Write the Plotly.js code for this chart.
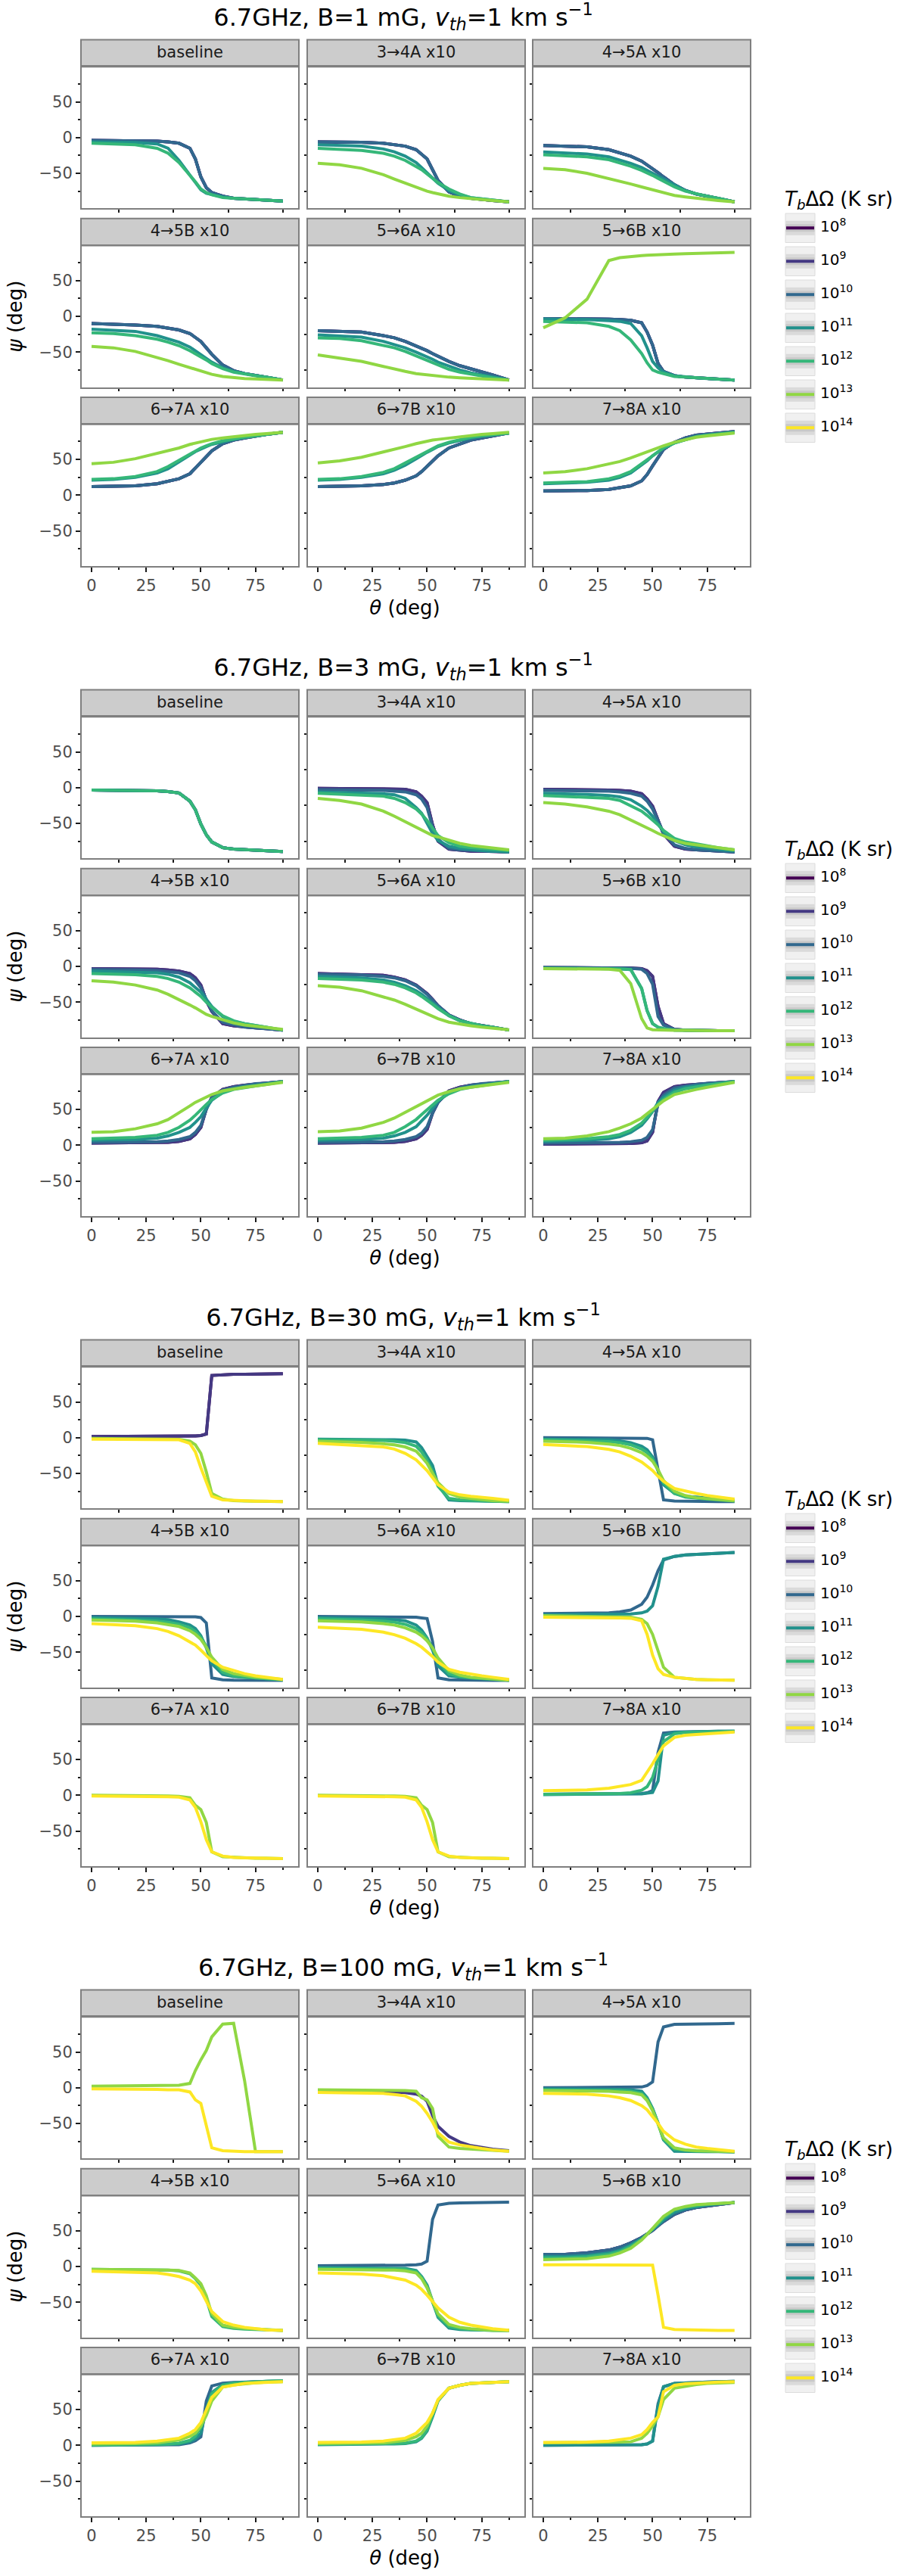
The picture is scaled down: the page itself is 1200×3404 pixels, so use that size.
<!DOCTYPE html>
<html>
<head>
<meta charset="utf-8">
<script src="https://cdn.plot.ly/plotly-3.0.1.min.js"></script>
<style>html,body{margin:0;padding:0;background:#fff;}#chart{width:1200px;height:3404px;}</style>
</head>
<body>
<div id="chart"></div>
<script>
// ---------- shared values ----------
const theta = [0,10,20,30,35,40,45,47.5,50,52.5,55,60,65,70,75,80,87.5];
const levelExponents = [8,9,10,11,12,13,14];
const fieldStrengths = [1,3,30,100];
const facetLabels = ["baseline","3→4A x10","4→5A x10","4→5B x10","5→6A x10","5→6B x10","6→7A x10","6→7B x10","7→8A x10"];
const N = null;

// ---------- B = 1 mG ----------
const B1_baseline = [
 [-4,-4,-4.5,-5,-6,-8,-15,-30,-55,-70,-77,-82,-85,-86,-87,-88,-89],
 [-4,-4,-4.5,-5,-6,-8,-15,-30,-55,-70,-77,-82,-85,-86,-87,-88,-89],
 [-4,-4,-4.5,-5,-6,-8,-15,-30,-55,-70,-77,-82,-85,-86,-87,-88,-89],
 [-6,-6,-7,-9,-15,-32,-52,-63,-73,-78,-80,-83,-85,-86,-87,-88,-89],
 [-8,-8.5,-10,-15,-22,-35,-52,-62,-72,-77,-80,-84,-85,-86,-87,-88,-89],
 N, N];
const B1_34A = [
 [-6,-6,-6.5,-8,-10,-12,-17,-23,-30,-45,-60,-76,-82,-85,-87,-88,-90],
 [-6,-6,-6.5,-8,-10,-12,-17,-23,-30,-45,-60,-76,-82,-85,-87,-88,-90],
 [-6,-6,-6.5,-8,-10,-12,-17,-23,-30,-45,-60,-76,-82,-85,-87,-88,-90],
 [-10,-10.5,-12,-16,-20,-26,-35,-42,-49,-57,-64,-74,-80,-84,-86,-88,-90],
 [-15,-16,-18,-22,-26,-32,-40,-45,-51,-57,-63,-72,-79,-84,-86,-88,-90],
 [-36,-38,-43,-52,-58,-64,-70,-72,-75,-77,-79,-82,-84,-85,-87,-88,-90],
 N];
const B1_45A = [
 [-11,-11.5,-13,-17,-21,-26,-33,-38,-43,-49,-55,-66,-74,-79,-82,-85,-90],
 [-11,-11.5,-13,-17,-21,-26,-33,-38,-43,-49,-55,-66,-74,-79,-82,-85,-90],
 [-11,-11.5,-13,-17,-21,-26,-33,-38,-43,-49,-55,-66,-74,-79,-82,-85,-90],
 [-20,-21,-23,-27,-31,-36,-42,-46,-50,-55,-59,-67,-74,-79,-82,-85,-90],
 [-24,-25,-27,-31,-35,-40,-46,-49,-53,-57,-61,-69,-75,-79,-82,-85,-90],
 [-43,-45,-50,-57,-61,-65,-69,-71,-74,-76,-78,-81,-83,-85,-87,-88,-90],
 N];
const B1_45B = [
 [-10,-10.5,-12,-14,-16,-19,-24,-29,-35,-44,-53,-68,-76,-80,-83,-85,-89],
 [-10,-10.5,-12,-14,-16,-19,-24,-29,-35,-44,-53,-68,-76,-80,-83,-85,-89],
 [-10,-10.5,-12,-14,-16,-19,-24,-29,-35,-44,-53,-68,-76,-80,-83,-85,-89],
 [-18,-19,-21,-27,-31,-36,-43,-48,-53,-58,-64,-72,-77,-80,-83,-85,-89],
 [-23,-24,-27,-32,-36,-41,-48,-52,-57,-61,-66,-73,-78,-81,-83,-85,-89],
 [-42,-44,-49,-57,-62,-67,-72,-74,-77,-79,-81,-84,-86,-87,-87.5,-88,-89],
 N];
const B1_56A = [
 [-20,-20.5,-22,-27,-30,-35,-41,-44,-48,-52,-56,-63,-69,-73,-78,-82,-89],
 [-20,-20.5,-22,-27,-30,-35,-41,-44,-48,-52,-56,-63,-69,-73,-78,-82,-89],
 [-20,-20.5,-22,-27,-30,-35,-41,-44,-48,-52,-56,-63,-69,-73,-78,-82,-89],
 [-26,-27,-29,-35,-39,-44,-50,-53,-57,-60,-64,-70,-75,-79,-82,-85,-89],
 [-30,-31,-34,-40,-44,-49,-55,-58,-62,-65,-68,-74,-78,-81,-84,-86,-89],
 [-54,-58,-63,-70,-74,-77,-80,-81,-82,-83,-84,-85,-86,-87,-87.5,-88,-89],
 N];
const B1_56B = [
 [-3,-3,-3.5,-4,-4.5,-5.5,-9,-22,-40,-66,-77,-83,-85,-86,-87,-88,-89],
 [-3,-3,-3.5,-4,-4.5,-5.5,-9,-22,-40,-66,-77,-83,-85,-86,-87,-88,-89],
 [-3,-3,-3.5,-4,-4.5,-5.5,-9,-22,-40,-66,-77,-83,-85,-86,-87,-88,-89],
 [-4,-4,-4.5,-6,-7,-10,-27,-44,-63,-72,-78,-83,-85,-86,-87,-88,-89],
 [-7,-7.5,-9,-14,-20,-33,-52,-65,-75,-78,-80,-84,-85,-86,-87,-88,-89],
 [-16,-2,24,78,82,84,85,85.5,86,86,86.5,87,87.5,88,88.5,89,89.5],
 N];
const B1_67A = [
 [12,12,13,16,19,23,30,38,47,55,62,72,77,80,83,85,88],
 [12,12,13,16,19,23,30,38,47,55,62,72,77,80,83,85,88],
 [12,12,13,16,19,23,30,38,47,55,62,72,77,80,83,85,88],
 [21,22,25,31,37,46,56,61,65,68,71,75,78,81,83,85,88],
 [22,23,26,33,40,49,58,62,66,69,72,76,79,81,83,85,88],
 [44,46,51,58,62,66,71,73,75,77,78,80,82,84,85,86,88],
 N];
const B1_67B = [
 [12,12,13,15,17,21,27,33,40,48,55,66,72,77,80,83,87],
 [12,12,13,15,17,21,27,33,40,48,55,66,72,77,80,83,87],
 [12,12,13,15,17,21,27,33,40,48,55,66,72,77,80,83,87],
 [21,22,25,30,35,42,51,56,60,64,68,73,77,80,83,85,87],
 [22,23,26,32,37,45,54,58,62,66,69,74,78,81,83,85,87],
 [45,48,53,60,64,68,72,74,75,77,78,80,82,84,85,86,88],
 N];
const B1_78A = [
 [6,6,6.5,8,10,13,20,29,41,53,64,74,80,84,86,87,89],
 [6,6,6.5,8,10,13,20,29,41,53,64,74,80,84,86,87,89],
 [6,6,6.5,8,10,13,20,29,41,53,64,74,80,84,86,87,89],
 [16,16.5,18,21,25,31,42,48,55,61,66,73,78,82,84,86,88],
 [17,17.5,19,23,27,33,44,50,56,61,66,73,78,82,84,86,88],
 [31,33,37,43,47,52,58,61,64,67,69,74,78,81,83,85,87],
 N];

// ---------- B = 3 mG ----------
const B2_baseline = [
 [-3.5,-3.5,-4,-4.5,-5.5,-7.5,-19,-31,-51,-66,-76,-84,-86,-87,-88,-88.5,-89.5],
 [-3.5,-3.5,-4,-4.5,-5.5,-7.5,-19,-31,-51,-66,-76,-84,-86,-87,-88,-88.5,-89.5],
 [-3.5,-3.5,-4,-4.5,-5.5,-7.5,-19,-31,-51,-66,-76,-84,-86,-87,-88,-88.5,-89.5],
 [-3.5,-3.5,-4,-4.5,-5.5,-7.5,-19,-31,-51,-66,-76,-84,-86,-87,-88,-88.5,-89.5],
 [-3.5,-3.5,-4,-4.5,-5.5,-7.5,-19,-31,-51,-66,-76,-84,-86,-87,-88,-88.5,-89.5],
 N, N];
const B2_34A = [
 [-1,-1,-1.2,-1.5,-2,-2.5,-6,-12,-21,-52,-75,-86,-88,-89,-89,-89.5,-90],
 [-1,-1,-1.2,-1.5,-2,-2.5,-6,-12,-21,-52,-75,-86,-88,-89,-89,-89.5,-90],
 [-3,-3,-3.5,-4,-5,-6,-10,-16,-28,-55,-72,-85,-87,-88,-89,-89,-90],
 [-6,-6.5,-7,-8.5,-10,-15,-28,-36,-50,-64,-74,-82,-85,-87,-88,-89,-90],
 [-8,-9,-10,-12,-15,-21,-30,-37,-46,-57,-67,-77,-82,-84,-85,-86,-88],
 [-15,-18,-23,-33,-40,-48,-56,-60,-64,-67,-69,-74,-78,-81,-83,-85,-87],
 N];
const B2_45A = [
 [-2.5,-2.5,-3,-3.5,-4,-5,-8.5,-16,-26,-46,-65,-82,-86,-87,-88,-89,-90],
 [-2.5,-2.5,-3,-3.5,-4,-5,-8.5,-16,-26,-46,-65,-82,-86,-87,-88,-89,-90],
 [-4,-4,-4.5,-5,-6,-8,-12,-19,-30,-46,-63,-80,-85,-87,-88,-89,-90],
 [-8,-8.5,-9.5,-11,-13,-17,-26,-32,-40,-51,-62,-74,-80,-83,-85,-86,-89],
 [-11,-12,-13,-15,-18,-25,-33,-39,-45,-52,-60,-71,-76,-79,-82,-84,-87],
 [-21,-23,-27,-33,-38,-45,-52,-56,-60,-64,-67,-74,-78,-80,-82,-84,-87],
 N];
const B2_45B = [
 [-3,-3,-3.5,-4,-5,-6.5,-10,-16,-26,-48,-63,-80,-83,-85,-86,-87,-89],
 [-3,-3,-3.5,-4,-5,-6.5,-10,-16,-26,-48,-63,-80,-83,-85,-86,-87,-89],
 [-4.5,-4.5,-5,-6,-7,-9,-14,-20,-30,-47,-62,-78,-82,-85,-86,-87,-89],
 [-6.5,-7,-8,-9,-11,-15,-23,-29,-36,-46,-56,-70,-77,-80,-83,-85,-89],
 [-10,-10.5,-11.5,-14,-17,-22,-30,-36,-42,-50,-57,-69,-76,-80,-83,-85,-89],
 [-20,-22,-26,-33,-39,-46,-54,-58,-63,-67,-70,-75,-79,-82,-84,-85,-88],
 N];
const B2_56A = [
 [-10,-10.5,-11,-12.5,-15,-19,-26,-32,-38,-46,-55,-68,-75,-80,-83,-85,-89],
 [-10,-10.5,-11,-12.5,-15,-19,-26,-32,-38,-46,-55,-68,-75,-80,-83,-85,-89],
 [-11,-11.5,-12,-14,-16,-20,-27,-33,-39,-47,-55,-68,-75,-80,-83,-85,-89],
 [-14,-15,-16,-19,-22,-27,-34,-39,-45,-51,-58,-69,-76,-80,-83,-85,-89],
 [-17,-18,-19,-22,-25,-30,-37,-42,-47,-53,-59,-69,-76,-80,-83,-85,-89],
 [-27,-29,-34,-42,-47,-53,-60,-63,-67,-70,-73,-78,-81,-83,-85,-86,-88.5],
 N];
const B2_56B = [
 [-1.5,-1.5,-1.5,-1.7,-2,-2.3,-3,-6,-14,-56,-80,-88,-89,-89.5,-89.5,-90,-90],
 [-1.5,-1.5,-1.5,-1.7,-2,-2.3,-3,-6,-14,-56,-80,-88,-89,-89.5,-89.5,-90,-90],
 [-1.5,-1.5,-1.5,-1.7,-2,-2.5,-4,-10,-25,-70,-82,-88,-89,-89.5,-89.5,-90,-90],
 [-2.5,-2.5,-2.5,-3,-3.5,-4.5,-31,-62,-80,-85,-87,-89,-89.5,-89.5,-90,-90,-90],
 [-2.5,-2.5,-2.5,-3,-3.5,-4.5,-31,-62,-80,-85,-87,-89,-89.5,-89.5,-90,-90,-90],
 [-3,-3,-3.2,-4,-5.5,-24,-73,-86,-88.5,-89,-89.5,-89.5,-89.5,-90,-90,-90,-90],
 N];
const B2_67A = [
 [3,3,3,3.5,4,5.5,9,15,25,51,67,78,82,84,86,87,89],
 [3,3,3,3.5,4,5.5,9,15,25,51,67,78,82,84,86,87,89],
 [4,4,4.5,5,6,8,12,18,28,50,66,77,81,84,86,87,89],
 [7,7.5,8,10,13,18,25,32,40,52,63,74,79,82,84,86,89],
 [9,9.5,11,14,18,25,35,42,50,57,64,73,78,81,83,85,89],
 [18,19,23,30,36,45,55,60,64,68,71,76,79,81,83,85,88],
 N];
const B2_67B = [
 [3,3,3,3.5,4,5.5,9,14,22,45,60,76,81,84,86,87,89],
 [3,3,3,3.5,4,5.5,9,14,22,45,60,76,81,84,86,87,89],
 [4,4,4.5,5,6,8,12,17,26,45,60,75,80,84,86,87,89],
 [7,7.5,8,10,13,18,26,34,42,52,62,73,79,82,84,86,89],
 [9,9.5,11,14,18,26,36,43,50,57,63,72,78,81,83,85,89],
 [19,20,24,32,38,46,55,59,63,67,70,75,79,81,83,85,88],
 N];
const B2_78A = [
 [1.5,1.5,1.5,1.7,2,2.5,3.5,6,18,61,74,82,84,85.5,86.5,87.5,89],
 [1.5,1.5,1.5,1.7,2,2.5,3.5,6,18,61,74,82,84,85.5,86.5,87.5,89],
 [3,3,3.2,3.5,4,5,7,11,22,58,70,80,83,85,86.5,87.5,89],
 [5.5,6,7,9,12,18,28,37,47,60,67,77,81,83,85,87,89],
 [7,7.5,9,12,15,21,31,39,48,57,64,74,79,82,84,86,89],
 [9,10,13,19,24,30,38,44,50,56,62,71,75,78,81,84,88],
 N];

// ---------- B = 30 mG ----------
const B3_baseline = [
 [1.5,1.5,1.5,1.5,1.5,2,2,2.5,3,5,87,88,88.5,88.5,89,89,89.5],
 [1.5,1.5,1.5,1.5,1.5,2,2,2.5,3,5,87,88,88.5,88.5,89,89,89.5],
 N, N, N,
 [-1,-1,-1,-1.5,-2,-2.5,-5,-10,-22,-48,-78,-86,-88,-88.5,-89,-89,-89.5],
 [-2,-2,-2,-2,-2.5,-3,-8,-20,-42,-62,-82,-87,-88,-88.5,-89,-89,-89.5]];
const B3_34A = [
 N, N, N,
 [-2,-2,-2,-2.5,-3,-3.5,-6,-14,-27,-39,-66,-87,-88,-88.5,-89,-89,-89.5],
 [-3,-3,-3.5,-4,-5,-7,-12,-20,-32,-47,-68,-85,-87,-88,-88.5,-89,-89.5],
 [-5,-5.5,-6.5,-8.5,-10,-13,-19,-27,-36,-50,-63,-78,-83,-85,-87,-88,-89],
 [-8,-9.5,-10.5,-13,-16,-22,-31,-38,-46,-56,-66,-76,-80,-82,-84,-85,-87.5]];
const B3_45A = [
 N, N,
 [0,0,0,0,0,0,-0.5,-1,-3,-45,-87,-88.5,-89,-89,-89.5,-89.5,-89.5],
 [-2,-2,-2.5,-3,-4.5,-7,-12,-17,-27,-46,-66,-78,-82,-83,-85,-86,-88],
 [-3,-3.5,-4,-5.5,-7,-10,-16,-21,-30,-45,-63,-78,-83,-85,-86,-87,-88.5],
 [-5,-5.5,-6.5,-9,-11,-15,-21,-26,-33,-45,-60,-75,-81,-84,-85.5,-87,-88.5],
 [-9.5,-10.5,-12.5,-16.5,-20,-26,-34,-40,-46,-54,-61,-71,-75,-78,-81,-83,-86]];
const B3_45B = [
 N, N,
 [0,0,0,0,0,0,0,-0.5,-1.5,-9,-86,-88.5,-89,-89,-89.5,-89.5,-89.5],
 [-1.5,-2,-2.5,-3.5,-4.5,-7.5,-12,-17,-27,-44,-66,-81,-84,-85,-86.5,-87.5,-88.5],
 [-3.5,-4,-5,-6.5,-8,-11,-16,-21,-29,-42,-60,-78,-83,-85,-86,-87,-88.5],
 [-5,-5.5,-6.5,-9,-11,-14,-20,-25,-32,-43,-57,-74,-80,-83,-85,-86,-88],
 [-10,-11,-13,-17,-21,-27,-35,-40,-47,-54,-62,-71,-76,-80,-83,-85,-88]];
const B3_56A = [
 N, N,
 [0,0,0,0,0,-0.5,-1,-2,-3,-35,-86,-88.5,-89,-89,-89.5,-89.5,-89.5],
 [-1.5,-2,-2.5,-3.5,-4.5,-6,-12,-19,-30,-47,-69,-83,-85,-86,-87,-88,-89],
 [-3.5,-4,-5,-6.5,-8,-11,-17,-23,-31,-44,-62,-80,-84,-86,-87,-88,-89],
 [-6,-6.5,-7.5,-10,-12,-16,-22,-27,-34,-44,-58,-76,-82,-85,-86,-87,-89],
 [-15,-16,-18,-22,-25.5,-30.5,-38,-43,-49,-56,-64,-74,-78,-81,-83,-85,-88]];
const B3_56B = [
 N, N,
 [4,4,4,5,6.5,9,17,27,44,64,79,84,86,87,88,88.5,89.5],
 [2.5,2.5,2.5,2.5,3,3.5,5,7.5,15,42,80,84,86,87,88,88.5,89.5],
 N,
 [1,0.5,0,-0.5,-0.5,-1,-4,-10,-25,-47,-71,-85,-87,-88,-88.5,-88.5,-89],
 [-1,-1,-1.5,-2,-2,-2.5,-6,-25,-54,-73,-81,-85,-87,-88,-88.5,-88.5,-89]];
const B3_67A = [
 N, N, N, N, N,
 [0,0,0,-0.5,-1,-1.5,-3.5,-14,-20,-38,-79,-86,-87,-87.5,-88,-88,-88.5],
 [-1,-1,-1,-1.5,-2,-2.5,-6.5,-17,-37,-62,-79,-85,-87,-87.5,-88,-88,-88.5]];
const B3_67B = [
 N, N, N, N, N,
 [0,0,0,-0.5,-1,-1.5,-3.5,-14,-20,-38,-79,-86,-87,-87.5,-88,-88,-88.5],
 [-1,-1,-1,-1.5,-2,-2.5,-6.5,-17,-37,-62,-79,-85,-87,-87.5,-88,-88,-88.5]];
const B3_78A = [
 N, N,
 [1.5,1.5,1.5,1.5,1.5,2,2.5,3.5,6.5,60,87,88.5,89,89,89,89.5,89.5],
 [1,1,1,1,1,1.5,2,3,4,20,84,88,88.5,89,89,89.5,89.5],
 [1.5,1.5,1.5,2,2.5,3.5,7,12,25,50,75,86,88,88.5,89,89,89.5],
 N,
 [6.5,6.5,7.5,10,12,15,21,32,44,57,69,81,84,85,86,87,88.5]];

// ---------- B = 100 mG ----------
const B4_baseline = [
 N, N, N, N, N,
 [2,2.5,3,3.5,3.5,3.5,6,24,39,52,71,89,90,10,-89.5,-89.5,-89.5],
 [-1.5,-1.5,-2,-2.5,-3,-3,-6,-17,-22,-52,-84,-88,-89,-89.5,-89.5,-89.5,-89.5]];
const B4_34A = [
 N,
 [-5,-5,-5,-5.5,-6,-7,-9,-12,-19,-39,-54,-68,-76,-81,-84,-86,-88],
 N, N, N,
 [-3,-3,-3,-3.5,-3.5,-4,-5,-14,-17,-29,-68,-83,-85,-86,-87,-88,-89],
 [-6.5,-7,-7.5,-8,-9.5,-11.5,-19,-26,-36,-48,-63,-76,-80,-83,-85,-87,-89]];
const B4_45A = [
 N, N,
 [0,0,0,0,0,0.5,1,3,8,64,85,88.5,89,89,89.5,89.5,90],
 [-1.5,-1.5,-1.5,-2,-2.5,-3,-5,-14,-29,-49,-73,-89,-89.5,-89.5,-89.5,-89.5,-90],
 [-3,-3,-3,-3.5,-4,-5,-8,-16,-30,-50,-72,-86,-88,-89,-89,-89.5,-89.5],
 [-4,-4,-4.5,-5,-6,-7,-10,-18,-32,-50,-70,-84,-87,-88,-89,-89,-89.5],
 [-8,-8.5,-9,-11.5,-14,-18,-25,-31,-40,-50,-61,-73,-79,-83,-85,-87,-89]];
const B4_45B = [
 N, N, N, N,
 [-4,-4,-4,-4.5,-5,-6,-10,-17,-26,-45,-70,-84,-86.5,-87.5,-88,-89,-89.5],
 [-4,-4,-4,-4.5,-5,-5.5,-9,-16,-24,-41,-66,-82,-85,-86.5,-87.5,-88.5,-89.5],
 [-6.5,-7,-7.5,-9,-11,-14,-19,-24,-34,-48,-63,-77,-82,-85,-87,-88.5,-89.5]];
const B4_56A = [
 N, N,
 [1,1,1,1.5,2,2,2.5,3.5,7.5,66,86,88.5,89,89,89.5,89.5,90],
 [-1.5,-1.5,-1.5,-2,-2,-2.5,-5.5,-14,-26,-49,-71,-86,-88,-88.5,-89,-89.5,-89.5],
 [-2.5,-2.5,-2.5,-3,-3.5,-4,-7,-15,-28,-50,-69,-84,-87,-88,-89,-89.5,-89.5],
 [-4,-4,-4,-4.5,-5,-6,-9,-17,-30,-48,-66,-81,-85,-87,-88.5,-89,-89.5],
 [-9,-9.5,-10.5,-13,-15.5,-19,-26,-32,-40,-49,-58,-71,-78,-82,-85,-87,-89]];
const B4_56B = [
 [17,17,19,23,27,33,40.5,45,50.5,57,63,73,79,82.5,85,86.5,89.5],
 [17,17,19,23,27,33,40.5,45,50.5,57,63,73,79,82.5,85,86.5,89.5],
 [17,17,19,23,27,33,40.5,45,50.5,57,63,73,79,82.5,85,86.5,89.5],
 [14,14,15.5,19,23,30,39,45,51,58,65,76,81,84,86,87.5,89.5],
 [12,12,13.5,17,21,28,38,45,52,60,68,79,83,85.5,87,88,89.5],
 [9.5,10,11,14.5,19,25.5,37,45,53,62,70,80,84,86.5,87.5,88.5,89.5],
 [2.5,2.5,2.5,2.5,2.5,2.5,2.5,2.5,2,-40,-85,-88,-88.5,-89,-89,-89.5,-89.5]];
const B4_67A = [
 N, N,
 [0,0,0,0.5,0.5,1,3.5,6.5,12,62,83,87,88,88.5,89,89.5,90],
 [0,0,0.5,1,1.5,2,5,9,17,50,74,85,87.5,88.5,89,89.5,90],
 [0.5,0.5,1,1.5,2,3,7,13,25,50,72,84,87,88,89,89.5,90],
 [2,2,2.5,3.5,5,7.5,12.5,17,27,42,62,81.5,84.5,86.5,87.5,88.5,89],
 [3.5,3.5,4,6,7.5,10,17,22,32,50,67,81.5,84.5,86.5,87.5,88.5,89]];
const B4_67B = [
 N, N, N,
 [1,1,1,1.5,2,2.5,5,10,20,40,62,80,84,86.5,87.5,88.5,89],
 [1.5,1.5,1.5,2,2.5,3,6,11,22,42,63,80,84,86.5,87.5,88.5,89],
 [2.5,2.5,3,3.5,5,7,12,17,27,44,63,80,84,86.5,87.5,88.5,89],
 [4,4,4.5,6,7.5,10,17,24,32,45,64,80,84,86.5,87.5,88.5,89]];
const B4_78A = [
 N, N,
 [0,0,0,0,0,0.5,1,2,6,58,82,86.5,87.5,88,88.5,89,89.5],
 [0,0,0,0,0,0.5,1,2,6,55,82,86.5,87.5,88,88.5,89,89.5],
 N,
 [3.5,3.5,3.5,4,4.5,5,10,17,27,40,64,80,83,85,86.5,87.5,88],
 [4,4,4.5,6,7.5,10,15,22,32,40,75,84,86,87,88,88.5,89]];

const blockPanels = [
 [B1_baseline,B1_34A,B1_45A,B1_45B,B1_56A,B1_56B,B1_67A,B1_67B,B1_78A],
 [B2_baseline,B2_34A,B2_45A,B2_45B,B2_56A,B2_56B,B2_67A,B2_67B,B2_78A],
 [B3_baseline,B3_34A,B3_45A,B3_45B,B3_56A,B3_56B,B3_67A,B3_67B,B3_78A],
 [B4_baseline,B4_34A,B4_45A,B4_45B,B4_56A,B4_56B,B4_67A,B4_67B,B4_78A]
];

// ---------- styling / layout (pixels) ----------
const W = 1200, H = 3404;
const colors = ['#440154','#443983','#31688e','#21918c','#35b779','#90d743','#fde725'];
const FONT = 'DejaVu Sans, sans-serif';
const colPx = [[108,394],[407,693],[705,991]];
const firstStripTop = 52.5, blockPitch = 859;
const stripH = 35.7, plotBottomOff = 222.8, rowPitch = 236.3;
const fx = p => p / W, fy = p => 1 - p / H;

const traces = [], shapes = [];
const layout = {
  width: W, height: H, margin: {l:0, r:0, t:0, b:0},
  paper_bgcolor: '#ffffff', plot_bgcolor: 'rgba(0,0,0,0)',
  showlegend: false, font: {family: FONT, color: '#000'}
};
const errs = [];
// text placed on a full-page overlay axis (pixel coordinates)
const OV = String(37);
const textGroups = {};
function addText(group, x, y, text, size, color, pos) {
  if (!textGroups[group]) textGroups[group] = {x:[], y:[], text:[], size:size, color:color, pos:pos};
  const g = textGroups[group];
  g.x.push(x); g.y.push(y); g.text.push(text);
}

blockPanels.forEach((panels, b) => {
  const S = firstStripTop + blockPitch * b;
  addText('title', 533, S - 27, '6.7GHz, B=' + fieldStrengths[b] + ' mG, <i>v</i><sub><i>th</i></sub>=1 km s<sup>−1</sup>', 32, '#000', 'middle center');
  addText('xtitle', 535, S + 753, '<i>θ</i> (deg)', 26, '#000', 'middle center');

  panels.forEach((series, p) => {
    const r = Math.floor(p / 3), c = p % 3;
    const idx = b * 9 + p + 1;
    const sfx = idx === 1 ? '' : String(idx);
    const stripTop = S + rowPitch * r;
    const plotTop = stripTop + stripH;
    const plotBot = S + plotBottomOff + rowPitch * r;
    const [x0, x1] = colPx[c];
    const tickStyle = {ticklen:6, tickwidth:2, tickcolor:'#1a1a1a'};
    const minorStyle = {ticks:'outside', ticklen:3.5, tickwidth:2, tickcolor:'#1a1a1a'};
    layout['xaxis' + sfx] = Object.assign({
      domain:[fx(x0), fx(x1)], range:[-4.5, 94.5], anchor:'y' + sfx,
      showline:true, mirror:true, linecolor:'#7f7f7f', linewidth:2,
      zeroline:false, showgrid:false, fixedrange:true,
      tickmode:'array', tickvals:[0,25,50,75],
      ticks: r === 2 ? 'outside' : '', showticklabels: r === 2,
      tickfont:{size:21, color:'#4d4d4d', family:FONT},
      minor: Object.assign({tickmode:'array', tickvals:[12.5,37.5,62.5,87.5]}, minorStyle)
    }, tickStyle);
    const yax = Object.assign({
      domain:[fy(plotBot), fy(plotTop)], range:[-99, 99], anchor:'x' + sfx,
      showline:true, mirror:true, linecolor:'#7f7f7f', linewidth:2,
      zeroline:false, showgrid:false, fixedrange:true,
      tickmode:'array', tickvals:[-50,0,50],
      ticks: c === 0 ? 'outside' : '', showticklabels: c === 0,
      tickfont:{size:21, color:'#4d4d4d', family:FONT},
      minor: Object.assign({tickmode:'array', tickvals:[-75,-25,25,75]}, minorStyle)
    }, tickStyle);
    if (r === 1 && c === 0) {
      yax.title = {text:'<i>ψ</i> (deg)', font:{size:26, color:'#000', family:FONT}, standoff:14};
    }
    layout['yaxis' + sfx] = yax;
    shapes.push({type:'rect', xref:'paper', yref:'paper', x0:fx(x0 - 1), x1:fx(x1 + 1), y0:fy(plotTop), y1:fy(stripTop),
      fillcolor:'#cccccc', line:{color:'#7f7f7f', width:2}, layer:'below'});
    addText('strip', (x0 + x1) / 2, (stripTop + plotTop) / 2, facetLabels[p], 21, '#1a1a1a', 'middle center');
    series.forEach((vals, s) => {
      if (!vals) return;
      if (vals.length !== theta.length) errs.push('B' + (b+1) + ' panel ' + p + ' series ' + s + ' len ' + vals.length);
      traces.push({type:'scatter', mode:'lines', x: theta, y: vals, xaxis:'x' + sfx, yaxis:'y' + sfx,
        line:{color: colors[s], width:4}, hoverinfo:'skip', showlegend:false});
    });
  });

  addText('legtitle', 1037, S + 212.5, '<i>T</i><sub><i>b</i></sub>ΔΩ (K sr)', 26, '#000', 'middle right');
  levelExponents.forEach((e, i) => {
    const top = S + 229.5 + 44 * i, kh = 38.5, kx0 = 1038, kx1 = 1077, mid = top + kh / 2;
    shapes.push({type:'rect', xref:'paper', yref:'paper', x0:fx(kx0), x1:fx(kx1), y0:fy(top + kh), y1:fy(top),
      fillcolor:'#f0f0f0', line:{color:'#dcdcdc', width:1}});
    shapes.push({type:'rect', xref:'paper', yref:'paper', x0:fx(kx0 + 0.5), x1:fx(kx1 - 0.5), y0:fy(mid + 9.5), y1:fy(mid - 9.5),
      fillcolor:'#dadada', line:{width:0}});
    shapes.push({type:'rect', xref:'paper', yref:'paper', x0:fx(kx0 + 0.5), x1:fx(kx1 - 0.5), y0:fy(mid + 5), y1:fy(mid - 5),
      fillcolor:'#c8c8c8', line:{width:0}});
    shapes.push({type:'line', xref:'paper', yref:'paper', x0:fx(kx0 + 1), x1:fx(kx1 - 1), y0:fy(mid), y1:fy(mid),
      line:{color: colors[i], width:4}});
    addText('leglabel', 1084, mid, '10<sup>' + e + '</sup>', 20, '#000', 'middle right');
  });
});

if (errs.length) addText('err', 600, 1700, errs.join('<br>'), 30, 'red', 'middle center');

layout['xaxis' + OV] = {domain:[0,1], range:[0, W], anchor:'y' + OV, visible:false, fixedrange:true};
layout['yaxis' + OV] = {domain:[0,1], range:[H, 0], anchor:'x' + OV, visible:false, fixedrange:true};
Object.keys(textGroups).forEach(k => {
  const g = textGroups[k];
  traces.push({type:'scatter', mode:'text', x:g.x, y:g.y, text:g.text, textposition:g.pos,
    textfont:{size:g.size, color:g.color, family:FONT}, xaxis:'x' + OV, yaxis:'y' + OV,
    cliponaxis:false, hoverinfo:'skip', showlegend:false});
});
layout.shapes = shapes;
Plotly.newPlot('chart', traces, layout, {displayModeBar:false});
</script>
</body>
</html>
